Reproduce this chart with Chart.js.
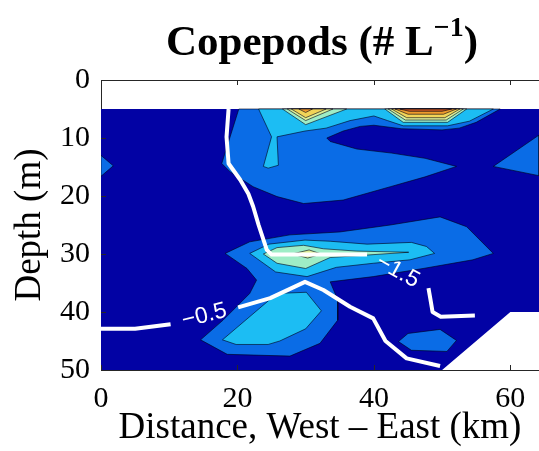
<!DOCTYPE html>
<html>
<head>
<meta charset="utf-8">
<script src="https://cdn.jsdelivr.net/npm/chart.js@4.4.0/dist/chart.umd.min.js"></script>
<style>
  html, body { margin: 0; padding: 0; background: #ffffff; }
  #wrap { width: 539px; height: 451px; }
</style>
</head>
<body>
<div id="wrap"><canvas id="c" width="539" height="451"></canvas></div>
<script>
// Axis ticks
const xTicks = [0, 20, 40, 60];
const yTicks = [0, 10, 20, 30, 40, 50];
const xMax = 64.2;

// Sampled part of the section: no data above 5 m or in the deep eastern corner
const sectionOutline = [[0,5],[64.2,5],[64.2,40],[60,40],[50,50],[0,50]];

// Level 1 contour band [km, depth m]
const lvl1Surface = [[20.2,5],[58.5,5],[55,7.3],[52.5,8.3],[50,8.6],[44,8.4],[40,7.8],[38,8],[35.5,8.8],[33.1,10],
  [33.6,10.6],[37.5,11.9],[42.6,12.6],[47.5,13.5],[52.1,14.9],[47.5,16.7],[42.4,18.4],[35.5,20.7],[29.7,21.3],
  [25.8,20.1],[22.3,18.4],[18.9,15.8],[17.7,14.4]];
const lvl1WestEdge = [[0,13],[1.8,14.8],[0,16.6]];
const lvl1EastLobe = [[57.5,14.9],[64.2,9.5],[64.2,16.5]];
const lvl1MidDepth = [[18.2,29.9],[21.8,27.9],[27.7,26.7],[35,26.2],[42.4,25],[49.7,23.6],[53.6,25.3],[57.5,29.9],
  [54.5,31],[47.2,32.5],[39.9,33.9],[33.6,34.8],[34.7,37.9],[34.7,41.4],[32.1,45.4],[27.7,47.6],[18.5,47.3],
  [14.6,44.8],[17.9,41.4],[21.8,36.8],[22.8,34.5],[21.4,32.5]];
const lvl1DeepPatch = [[43.6,45.1],[45,43.7],[49.7,43],[52.1,44.9],[50.7,46.8],[45.5,46.6]];

// Level 2
const lvl2Surface = [[23.1,5],[57.5,5],[54,7.1],[50.8,7.9],[44.3,7.9],[42,7],[40,6.2],[36.5,7],[33,8.3],[29.9,8.8],
  [25.8,9.8],[26,14.7],[24.5,15.2],[23.8,14.9],[25,9.8]];
const lvl2MidDepth = [[21.8,29.9],[24.6,28.3],[29.9,27.6],[33.6,27.8],[39,28.3],[45.5,28],[47.7,28.7],[48.9,29.9],
  [45.3,31],[39.9,31.6],[34.5,32.3],[30.2,33.9],[25.6,33.1]];
const lvl2Deep = [[17.8,44.8],[25.8,36.8],[30.1,36.6],[32.3,39.8],[30,42.9],[26.2,45],[24.5,45.6],[19.8,45.6]];

// Level 3
const lvl3SurfaceWest = [[26.6,5],[30,7.7],[36,5]];
const lvl3SurfaceEast = [[41.6,5],[44.3,7.3],[50.8,7.3],[53.6,5]];
const lvl3MidDepth = [[23.8,30],[25.8,28.9],[29.7,28.5],[32.6,29.1],[37.5,29.5],[45.1,29.7],[37.5,30.3],[33.6,30.6],
  [30,32.5],[25.8,31.6]];

// Level 4
const lvl4SurfaceWest = [[27.3,5],[30,7],[34,5]];
const lvl4SurfaceEast = [[42.1,5],[44.6,6.9],[50.6,6.9],[53.1,5]];
const lvl4MidDepth = [[28,30],[30.5,29.3],[32.3,30],[30.3,30.7]];

// Level 5
const lvl5SurfaceWest = [[27.9,5],[30,6.5],[33,5]];
const lvl5SurfaceEast = [[42.6,5],[44.8,6.5],[50.4,6.5],[52.6,5]];

// Level 6
const lvl6SurfaceWest = [[29,5],[30,5.6],[31,5]];
const lvl6SurfaceEast = [[43.1,5],[45,5.9],[50.2,5.9],[52.1,5]];

// Level 7
const lvl7SurfaceEast = [[43.8,5],[45.2,5.4],[50,5.4],[51.4,5]];

// Overlaid isolines (white), split where their labels sit
const isoHighWest = [[18.7,5],[18.4,9.8],[18.7,14.4],[20.4,17.2],[21.6,19.6],[22.3,21.8],[23.1,25],[24.3,29.3],[25,30.1],[39,30.1]];
const isoHighEast = [[48,35.9],[48.3,37.9],[48.6,40],[49.8,40.8],[54.8,40.6]];
const isoLowWest = [[0,42.9],[5,42.9],[10.2,42.1]];
const isoLowEast = [[20.1,39.2],[24.8,37.6],[29.9,34.8],[32.6,36.2],[36.5,39.1],[39.9,41.1],[41.7,45],[44.8,48],[49.7,49.3]];
const isoLabels = ['\u22120.5', '\u22121.5'];

const levelColors = ['#0202A4', '#0A6CE6', '#1CBDF3', '#9EEDC6', '#DCEF96', '#F1D458', '#EE9B2C', '#C4561E'];

const bands = [
  [sectionOutline, 0],
  [lvl1Surface, 1], [lvl1WestEdge, 1], [lvl1EastLobe, 1], [lvl1MidDepth, 1], [lvl1DeepPatch, 1],
  [lvl2Surface, 2], [lvl2MidDepth, 2], [lvl2Deep, 2],
  [lvl3SurfaceWest, 3], [lvl3SurfaceEast, 3], [lvl3MidDepth, 3],
  [lvl4SurfaceWest, 4], [lvl4SurfaceEast, 4], [lvl4MidDepth, 4],
  [lvl5SurfaceWest, 5], [lvl5SurfaceEast, 5],
  [lvl6SurfaceWest, 6], [lvl6SurfaceEast, 6],
  [lvl7SurfaceEast, 7]
];
const isolines = [isoHighWest, isoHighEast, isoLowWest, isoLowEast];

const toPts = arr => arr.map(p => ({ x: p[0], y: p[1] }));

const layers = [];
bands.forEach(([poly, lvl]) => {
  const pts = toPts(poly);
  pts.push(pts[0]);
  layers.push({
    data: pts,
    showLine: true,
    fill: 'shape',
    backgroundColor: levelColors[lvl],
    borderColor: lvl === 0 ? 'rgba(0,0,0,0)' : 'rgba(0,0,20,0.75)',
    borderWidth: lvl === 0 ? 0 : 0.8,
    pointRadius: 0,
    tension: 0
  });
});
isolines.forEach(line => {
  layers.push({
    data: toPts(line),
    showLine: true,
    fill: false,
    borderColor: '#ffffff',
    borderWidth: 4,
    borderJoinStyle: 'round',
    borderCapStyle: 'butt',
    pointRadius: 0,
    tension: 0
  });
});
// first layer painted first
layers.forEach((ds, i) => { ds.order = layers.length - i; });

const serif = '"Liberation Serif", "Times New Roman", serif';

const framePlugin = {
  id: 'frame',
  afterDatasetsDraw(chart) {
    const { ctx, chartArea: a, scales } = chart;
    ctx.save();
    ctx.strokeStyle = '#262626';
    ctx.lineWidth = 1;
    ctx.beginPath();
    ctx.moveTo(a.left, a.top + 0.5);
    ctx.lineTo(a.right, a.top + 0.5);
    xTicks.forEach(v => {
      const px = Math.round(scales.x.getPixelForValue(v)) + 0.5;
      ctx.moveTo(px, a.bottom); ctx.lineTo(px, a.bottom - 5);
      ctx.moveTo(px, a.top); ctx.lineTo(px, a.top + 5);
    });
    yTicks.forEach(v => {
      const py = Math.round(scales.y.getPixelForValue(v)) + 0.5;
      ctx.moveTo(a.left, py); ctx.lineTo(a.left + 5, py);
    });
    ctx.stroke();

    // isoline labels, centred in the gaps and turned along the line
    const gaps = [[isoLowWest[isoLowWest.length - 1], isoLowEast[0]],
                  [isoHighWest[isoHighWest.length - 1], isoHighEast[0]]];
    ctx.fillStyle = '#ffffff';
    ctx.font = '23px "Liberation Sans", Arial, sans-serif';
    ctx.textAlign = 'center';
    ctx.textBaseline = 'middle';
    gaps.forEach(([p, q], i) => {
      const x1 = scales.x.getPixelForValue(p[0]), y1 = scales.y.getPixelForValue(p[1]);
      const x2 = scales.x.getPixelForValue(q[0]), y2 = scales.y.getPixelForValue(q[1]);
      ctx.save();
      ctx.translate((x1 + x2) / 2, (y1 + y2) / 2);
      ctx.rotate(Math.atan2(y2 - y1, x2 - x1));
      ctx.fillText(isoLabels[i], 0, 0);
      ctx.restore();
    });
    ctx.restore();
  },
  afterDraw(chart) {
    const { ctx, chartArea: a } = chart;
    const main = 'Copepods (# L', sup = '\u22121', end = ')';
    ctx.save();
    ctx.fillStyle = '#000';
    ctx.textBaseline = 'alphabetic';
    ctx.textAlign = 'left';
    const fMain = 'bold 43px ' + serif, fSup = 'bold 28px ' + serif;
    ctx.font = fMain;
    const w1 = ctx.measureText(main).width, w3 = ctx.measureText(end).width;
    ctx.font = fSup;
    const w2 = ctx.measureText(sup).width;
    const cx = (a.left + a.right) / 2 + 2;
    let x = cx - (w1 + w2 + w3) / 2;
    const base = 55;
    ctx.font = fMain; ctx.fillText(main, x, base); x += w1;
    ctx.font = fSup; ctx.fillText(sup, x, base - 19); x += w2;
    ctx.font = fMain; ctx.fillText(end, x, base);
    ctx.restore();
  }
};

new Chart(document.getElementById('c'), {
  type: 'scatter',
  data: { datasets: layers },
  options: {
    responsive: false,
    animation: false,
    devicePixelRatio: 1,
    layout: { padding: { top: 80, left: 0, right: 0, bottom: 0 } },
    plugins: {
      legend: { display: false },
      tooltip: { enabled: false },
      title: { display: false },
      filler: { drawTime: 'beforeDatasetDraw' }
    },
    scales: {
      x: {
        type: 'linear',
        min: 0, max: xMax,
        afterBuildTicks: s => { s.ticks = xTicks.map(v => ({ value: v })); },
        afterFit: s => { s.height = 81; },
        grid: { display: false, drawTicks: false },
        border: { display: true, color: '#262626', width: 1 },
        ticks: { padding: 11, color: '#000', font: { family: serif, size: 30 }, maxRotation: 0 },
        title: { display: true, text: 'Distance, West \u2013 East (km)', color: '#000',
                 font: { family: serif, size: 37 }, padding: { top: 0, bottom: 1 } }
      },
      y: {
        type: 'linear',
        reverse: true,
        min: 0, max: 50,
        afterBuildTicks: s => { s.ticks = yTicks.map(v => ({ value: v })); },
        afterFit: s => { s.width = 101; },
        grid: { display: false, drawTicks: false },
        border: { display: true, color: '#262626', width: 1 },
        ticks: { padding: 11, color: '#000', font: { family: serif, size: 30 } },
        title: { display: true, text: 'Depth (m)', color: '#000',
                 font: { family: serif, size: 37 }, padding: { top: 8, bottom: 0 } }
      }
    }
  },
  plugins: [framePlugin]
});
</script>
</body>
</html>
